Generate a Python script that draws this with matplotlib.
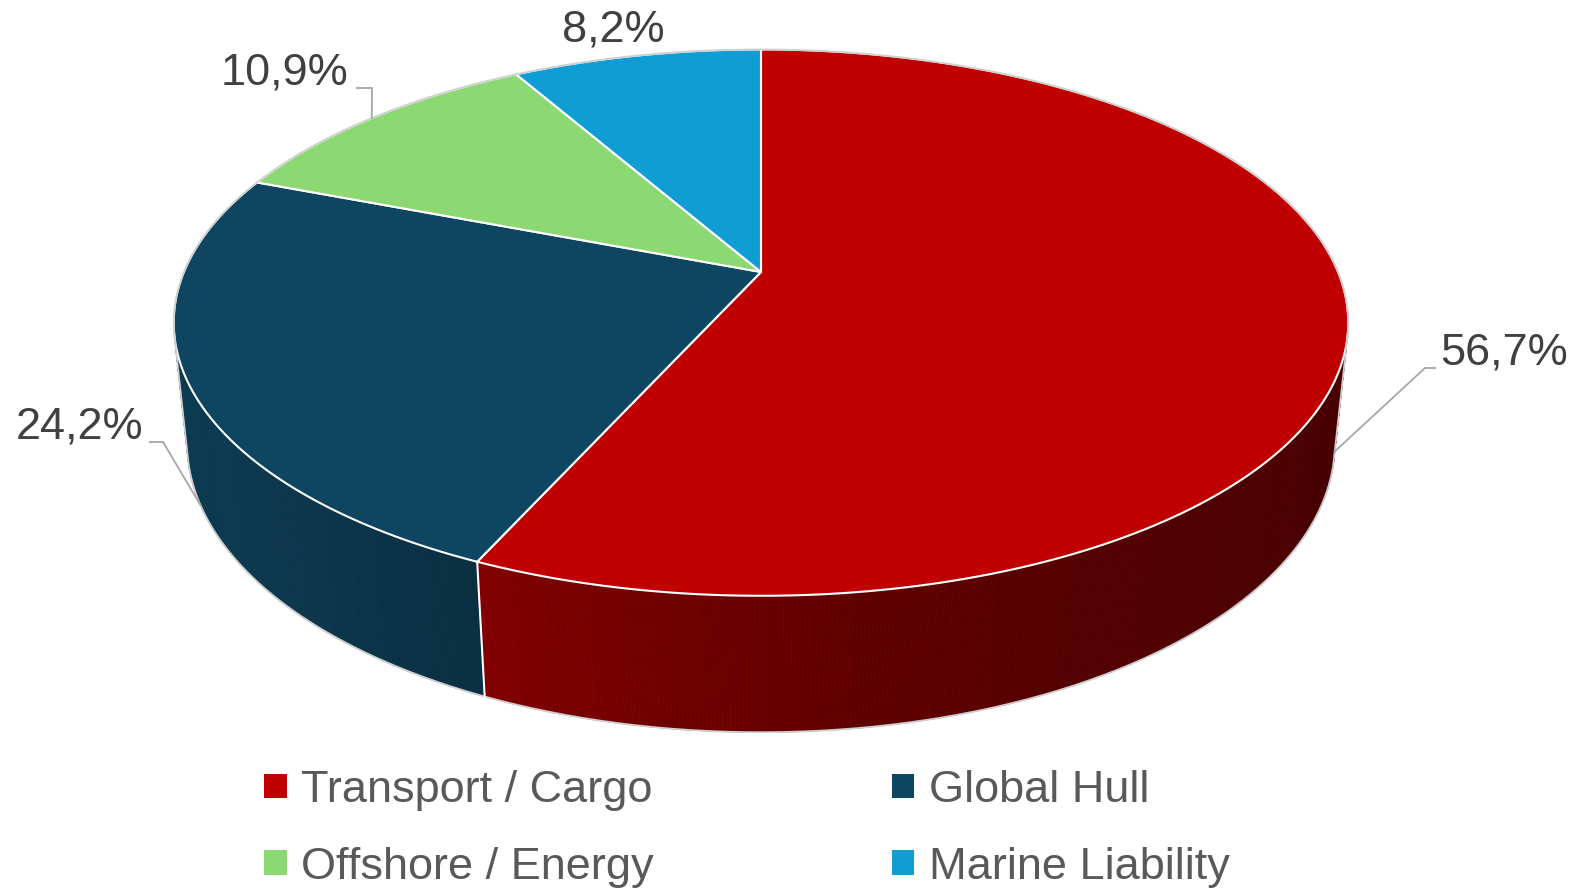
import numpy as np
import matplotlib
matplotlib.use('Agg')
import matplotlib.pyplot as plt
from matplotlib.patches import Polygon, Patch
from matplotlib.collections import PolyCollection

plt.rcParams['font.family'] = ['Liberation Sans', 'DejaVu Sans']

# 데이터
categories = ['Transport / Cargo', 'Global Hull', 'Offshore / Energy', 'Marine Liability']
shares = [56.7, 24.2, 10.9, 8.2]
pct_labels = ['56,7%', '24,2%', '10,9%', '8,2%']
colors = ['#C00000', '#0E4560', '#8CD872', '#109DD4']

# 3D 원근 파라미터 (픽셀 단위)
CX, CY = 761, 272
F, D = 2770, 4.8
PHI = np.radians(27.2)
H = 0.2368


def project(theta_deg, z):
    """파이 위(z=0) / 아래(z=-H) 원 위의 점을 화면 좌표로 투영"""
    t = np.radians(theta_deg)
    u, v = np.sin(t), -np.cos(t)
    depth = D - v * np.cos(PHI) - z * np.sin(PHI)
    x = CX + F * u / depth
    y = CY + F * (v * np.sin(PHI) - z * np.cos(PHI)) / depth
    return x, y


def shade(x):
    return np.interp(x, [180, 483, 840, 1340], [0.85, 0.67, 0.5, 0.375])


fig = plt.figure(figsize=(15.76, 8.94), dpi=100)
ax = fig.add_axes([0, 0, 1, 1])
ax.set_xlim(0, 1576)
ax.set_ylim(894, 0)
ax.axis('off')

total = sum(shares)
bounds = np.concatenate([[0], np.cumsum(shares) / total * 360])

# 옆면이 보이는 각도 범위
v_t = 1 / (D * np.cos(PHI))
t_vis = np.degrees(np.arccos(-v_t))  # 약 103.5도
vis_lo, vis_hi = t_vis, 360 - t_vis

# 1. 옆면 (그라데이션)
polys, fcs = [], []
for i in range(len(shares)):
    a0, a1 = max(bounds[i], vis_lo), min(bounds[i + 1], vis_hi)
    if a1 <= a0:
        continue
    ts = np.linspace(a0, a1, int((a1 - a0) * 3) + 2)
    base = np.array(matplotlib.colors.to_rgb(colors[i]))
    for t0, t1 in zip(ts[:-1], ts[1:]):
        p = [project(t0, 0), project(t1, 0), project(t1, -H), project(t0, -H)]
        polys.append(p)
        xm = np.mean([q[0] for q in p])
        fcs.append(base * shade(xm))
ax.add_collection(PolyCollection(polys, facecolors=fcs, edgecolors=fcs, linewidths=0.6))

# 옆면 경계선
for b in bounds[1:-1]:
    if vis_lo < b < vis_hi:
        p0, p1 = project(b, 0), project(b, -H)
        ax.plot([p0[0], p1[0]], [p0[1], p1[1]], color='white', lw=1.5)

# 2. 윗면 조각
for i in range(len(shares)):
    ts = np.linspace(bounds[i], bounds[i + 1], 200)
    xs, ys = project(ts, 0)
    pts = np.column_stack([np.r_[CX, xs], np.r_[CY, ys]])
    ax.add_patch(Polygon(pts, closed=True, facecolor=colors[i], edgecolor='white', lw=1.5))

# 3. 외곽선
ts = np.linspace(vis_hi, vis_lo + 360, 400)
xs, ys = project(ts, 0)
tb = np.linspace(vis_lo, vis_hi, 300)
xb, yb = project(tb, -H)
ax.plot(np.r_[xs[-1], xb, xs[0]], np.r_[ys[-1], yb, ys[0]], color='#CFCFCF', lw=1.3, zorder=1.5)
ax.plot(xs, ys, color='#CFCFCF', lw=1.3)

# 4. 데이터 레이블 + 지시선
label_pos = [(1440, 353, 'left'), (143, 427, 'right'), (348, 73, 'right'), (613, 30, 'center')]
elbows = [((1425, 368), (1435, 368)), ((163, 442), (150, 442)), ((372, 88), (357, 88)), None]
for i in range(len(shares)):
    x, y, ha = label_pos[i]
    ax.text(x, y, pct_labels[i], ha=ha, va='center', fontsize=32.5, color='#404040')
    if elbows[i] is None:
        continue
    mid = (bounds[i] + bounds[i + 1]) / 2
    z = -H if 90 < mid < 270 else 0  # 앞쪽 조각은 아래 테두리에 연결
    px, py = project(mid, z)
    (ex, ey), (sx, sy) = elbows[i]
    ax.plot([px, ex, sx], [py, ey, sy], color='#A6A6A6', lw=1.3)

# 5. 범례 (행 우선 순서)
order = [0, 2, 1, 3]
handles = [Patch(facecolor=colors[k], edgecolor='none') for k in order]
fig.legend(handles, [categories[k] for k in order], ncol=2, loc='center',
           bbox_to_anchor=(0.4741, 0.073), frameon=False, fontsize=32.5,
           labelcolor='#595959', handlelength=0.49, handleheight=0.45,
           handletextpad=0.33, columnspacing=5.27, labelspacing=0.79)

fig.savefig('out.png', dpi=100)
